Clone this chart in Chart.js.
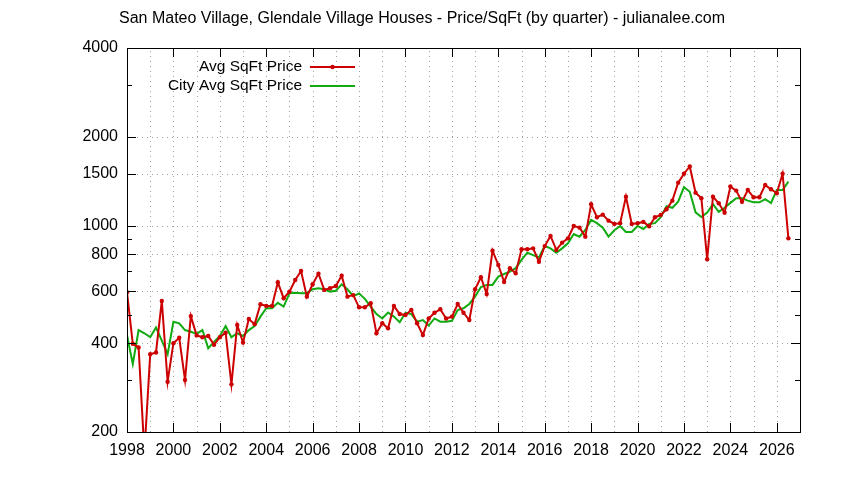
<!DOCTYPE html>
<html>
<head>
<meta charset="utf-8">
<script src="https://cdn.jsdelivr.net/npm/chart.js@4/dist/chart.umd.min.js"></script>
<style>
  html, body { margin: 0; background: #fff; }
</style>
</head>
<body>
<canvas id="myChart" width="844" height="480"></canvas>
<script>
const chartTitle = "San Mateo Village, Glendale Village Houses - Price/SqFt (by quarter) - julianalee.com";
const firstYear = 1998;
// one value per quarter, 1998 Q1 .. 2026 Q3
const avgPrice = [
  595, 398, 387, 170, 367, 372, 556, 296,
  400, 417, 300, 494, 425, 419, 423, 395,
  419, 434, 290, 461, 402, 483, 464, 542,
  535, 535, 643, 568, 598, 655, 702, 575,
  633, 688, 606, 614, 625, 677, 575, 582,
  529, 529, 546, 432, 467, 449, 535, 502,
  498, 518, 467, 426, 485, 507, 521, 485,
  492, 543, 507, 479, 609, 669, 587, 823,
  736, 645, 718, 690, 832, 832, 838, 755,
  853, 923, 828, 876, 906, 998, 985, 918,
  1182, 1068, 1090, 1040, 1014, 1020, 1254, 1014,
  1020, 1030, 995, 1068, 1088, 1137, 1216, 1399,
  1500, 1588, 1294, 1239, 770, 1254, 1191, 1107,
  1357, 1315, 1206, 1321, 1248, 1248, 1373, 1329,
  1288, 1500, 906
];
const cityAvgPrice = [
  426, 340, 443, 432, 419, 452, 408, 367,
  473, 467, 443, 437, 430, 443, 384, 404,
  423, 457, 419, 432, 423, 443, 457, 492,
  525, 525, 548, 532, 590, 593, 590, 590,
  609, 614, 609, 598, 602, 633, 609, 577,
  590, 565, 532, 502, 485, 508, 492, 471,
  507, 502, 473, 479, 459, 485, 473, 473,
  476, 518, 525, 543, 575, 620, 630, 630,
  672, 686, 699, 718, 766, 810, 795, 781,
  853, 838, 810, 838, 872, 937, 918, 967,
  1046, 1020, 985, 918, 965, 998, 952, 952,
  998, 975, 1014, 1020, 1068, 1164, 1150, 1206,
  1350, 1303, 1110, 1070, 1107, 1182, 1114, 1150,
  1195, 1239, 1239, 1216, 1200, 1200, 1230, 1194,
  1321, 1321, 1410
];
const yMajorTicks = [200, 400, 600, 800, 1000, 1500, 2000, 4000];
const yMinorTicks = [300, 500, 700, 900, 3000];
const xLabelYears = [1998, 2000, 2002, 2004, 2006, 2008, 2010, 2012, 2014, 2016, 2018, 2020, 2022, 2024, 2026];
const xGridYears = [];
for (let y = 1999; y <= 2026; y++) xGridYears.push(y);

function toPoints(values) {
  let pts = [];
  for (let i = 0; i < values.length; i++) {
    pts.push({ x: firstYear + i / 4, y: values[i] });
  }
  return pts;
}

const fontFamily = "'Liberation Sans', Arial, sans-serif";

// gnuplot-like frame: dotted grid, box border, inward ticks, title and key
const gnuplotFrame = {
  id: "gnuplotFrame",
  beforeDatasetsDraw(chart) {
    const ctx = chart.ctx;
    const a = chart.chartArea;
    const xs = chart.scales.x, ys = chart.scales.y;
    ctx.save();
    ctx.strokeStyle = "#a0a0a0";
    ctx.lineWidth = 1;
    ctx.setLineDash([1, 4]);
    xGridYears.forEach(function (yr) {
      let px = Math.round(xs.getPixelForValue(yr)) + 0.5;
      ctx.beginPath();
      ctx.moveTo(px, a.bottom);
      ctx.lineTo(px, a.top);
      ctx.stroke();
    });
    yMajorTicks.slice(1, -1).forEach(function (v) {
      let py = Math.round(ys.getPixelForValue(v)) + 0.5;
      ctx.beginPath();
      ctx.moveTo(a.left, py);
      ctx.lineTo(a.right, py);
      ctx.stroke();
    });
    ctx.restore();
  },
  afterDatasetsDraw(chart) {
    const ctx = chart.ctx;
    const a = chart.chartArea;
    const xs = chart.scales.x, ys = chart.scales.y;
    ctx.save();
    ctx.strokeStyle = "#000";
    ctx.lineWidth = 1;
    ctx.setLineDash([]);
    ctx.strokeRect(Math.round(a.left) + 0.5, Math.round(a.top) + 0.5,
      Math.round(a.right - a.left), Math.round(a.bottom - a.top));
    ctx.beginPath();
    xLabelYears.forEach(function (yr) {
      let px = Math.round(xs.getPixelForValue(yr)) + 0.5;
      ctx.moveTo(px, a.bottom); ctx.lineTo(px, a.bottom - 9);
      ctx.moveTo(px, a.top); ctx.lineTo(px, a.top + 9);
    });
    yMajorTicks.forEach(function (v) {
      let py = Math.round(ys.getPixelForValue(v)) + 0.5;
      ctx.moveTo(a.left, py); ctx.lineTo(a.left + 9, py);
      ctx.moveTo(a.right, py); ctx.lineTo(a.right - 9, py);
    });
    yMinorTicks.forEach(function (v) {
      let py = Math.round(ys.getPixelForValue(v)) + 0.5;
      ctx.moveTo(a.left, py); ctx.lineTo(a.left + 5, py);
      ctx.moveTo(a.right, py); ctx.lineTo(a.right - 5, py);
    });
    ctx.stroke();

    // title
    ctx.fillStyle = "#000";
    ctx.font = "16px " + fontFamily;
    ctx.textAlign = "center";
    ctx.textBaseline = "middle";
    ctx.fillText(chartTitle, 422, 19);

    // key
    ctx.font = "15.5px " + fontFamily;
    ctx.textAlign = "right";
    chart.data.datasets.forEach(function (ds, i) {
      let ky = 67 + i * 19;
      ctx.fillStyle = "#000";
      ctx.fillText(ds.label, 302, ky);
      ctx.strokeStyle = ds.borderColor;
      ctx.lineWidth = 2;
      ctx.beginPath();
      ctx.moveTo(310, ky);
      ctx.lineTo(355, ky);
      ctx.stroke();
      if (ds.pointRadius > 0) {
        ctx.fillStyle = ds.borderColor;
        ctx.beginPath();
        ctx.arc(332.5, ky, ds.pointRadius, 0, Math.PI * 2);
        ctx.fill();
      }
    });
    ctx.restore();
  }
};

const data = {
  datasets: [
    {
      label: "Avg SqFt Price",
      data: toPoints(avgPrice),
      borderColor: "#cc0000",
      backgroundColor: "#cc0000",
      borderWidth: 2,
      pointRadius: 2.2,
      pointBorderWidth: 0,
      pointBackgroundColor: "#cc0000",
      tension: 0,
      clip: 0,
    },
    {
      label: "City Avg SqFt Price",
      data: toPoints(cityAvgPrice),
      borderColor: "#11aa11",
      backgroundColor: "#11aa11",
      borderWidth: 2,
      pointRadius: 0,
      tension: 0,
      clip: 0,
    },
  ],
};

const config = {
  type: "line",
  data: data,
  plugins: [gnuplotFrame],
  options: {
    responsive: false,
    animation: false,
    layout: { padding: { top: 48, right: 44, left: 0, bottom: 0 } },
    plugins: {
      legend: { display: false },
      title: { display: false },
      tooltip: { enabled: false },
    },
    scales: {
      x: {
        type: "linear",
        min: 1998,
        max: 2027,
        grid: { display: false, drawTicks: false },
        border: { display: false },
        afterBuildTicks: function (s) {
          s.ticks = xLabelYears.map(function (v) { return { value: v }; });
        },
        afterFit: function (s) { s.height = 48; },
        ticks: {
          autoSkip: false,
          maxRotation: 0,
          padding: 9,
          color: "#000",
          font: { family: fontFamily, size: 16 },
          callback: function (v) { return String(v); },
        },
      },
      y: {
        type: "logarithmic",
        min: 200,
        max: 4000,
        grid: { display: false, drawTicks: false },
        border: { display: false },
        afterBuildTicks: function (s) {
          s.ticks = yMajorTicks.map(function (v) { return { value: v }; });
        },
        afterFit: function (s) { s.width = 127; },
        ticks: {
          autoSkip: false,
          padding: 9,
          color: "#000",
          font: { family: fontFamily, size: 16 },
          callback: function (v) { return String(v); },
        },
      },
    },
  },
};

new Chart(document.getElementById("myChart"), config);
</script>
</body>
</html>
